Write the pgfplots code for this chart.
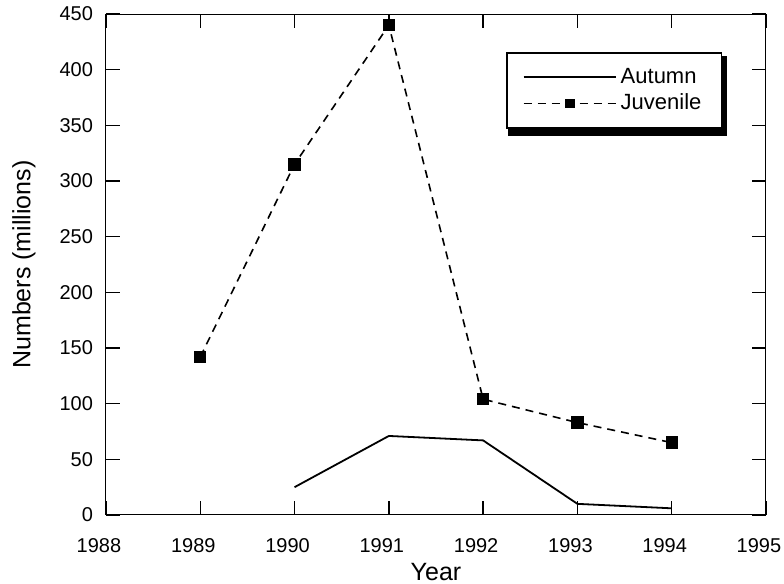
\documentclass[border=0pt]{standalone}
\usepackage{pgfplots}
\pgfplotsset{compat=1.18}
\usepackage{fontspec}
\setmainfont{Liberation Sans}
\begin{document}
\begin{tikzpicture}
\begin{axis}[
  scale only axis,
  width=330pt, height=250.5pt,
  xmin=1988, xmax=1995, ymin=0, ymax=450,
  xtick={1988,1989,1990,1991,1992,1993,1994,1995},
  ytick={0,50,100,150,200,250,300,350,400,450},
  xticklabel style={/pgf/number format/1000 sep={}, yshift=-8pt, xshift=-3.5pt},
  yticklabel style={xshift=-3pt},
  /pgf/number format/assume math mode=true,
  tick style={black, line width=0.7pt},
  major tick length=7pt,
  tick align=inside,
  axis line style={line width=0.5pt},
  tick label style={font=\fontsize{10}{12}\selectfont},
  xlabel={Year}, ylabel={Numbers (millions)},
  label style={font=\fontsize{12.5}{14}\selectfont},
  xlabel style={at={(axis description cs:0.5,0)}, anchor=center, yshift=-28.5pt},
  ylabel style={at={(axis description cs:0,0.5)}, anchor=center, yshift=41pt},
  legend style={name=leg, at={(0.606,0.924)}, anchor=north west, draw=black, line width=0.8pt,
    font=\fontsize{11}{13}\selectfont, row sep=0pt, inner xsep=8pt, inner ysep=5.5pt},
  legend cell align=left,
  legend image post style={mark size=2pt},
  legend image code/.code={\draw[mark repeat=2,mark phase=2,#1] plot coordinates {(0cm,0cm) (0.81cm,0cm) (1.62cm,0cm)};},
]
\coordinate (O) at (rel axis cs:0,0);
\addplot[black, line width=0.9pt, mark=none] coordinates {
 (1990,25) (1991,71) (1992,67) (1993,10) (1994,6)};
\addlegendentry{Autumn}
\addplot[black, line width=0.8pt, dash pattern=on 4pt off 3pt, mark=square*, mark size=2.7pt, mark options={solid}] coordinates {
 (1989,142) (1990,315) (1991,440) (1992,104) (1993,83) (1994,65)};
\addlegendentry{Juvenile}
\end{axis}
\fill[black] ([xshift=1pt,yshift=0.4pt]leg.south west) rectangle ([xshift=2.4pt,yshift=-3.4pt]leg.south east);
\fill[black] ([xshift=-0.4pt,yshift=-2pt]leg.north east) rectangle ([xshift=2.4pt,yshift=-3.4pt]leg.south east);
\pgfresetboundingbox
\path (O) ++(-53pt,-34.5pt) rectangle ++(392pt,292pt);
\end{tikzpicture}
\end{document}
